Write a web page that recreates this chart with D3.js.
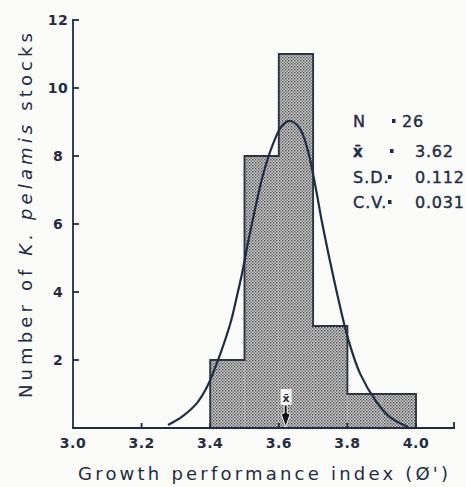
<!DOCTYPE html>
<html>
<head>
<meta charset="utf-8">
<script src="https://cdn.jsdelivr.net/npm/d3@7/dist/d3.min.js"></script>
<style>
  html, body { margin: 0; padding: 0; background: #fbfbf9; }
  svg { display: block; }
  text { font-family: "DejaVu Sans", sans-serif; fill: #1f2c44; }
</style>
</head>
<body>
<svg id="chart" width="466" height="487"></svg>
<script>
// ---------------- data ----------------
const binStarts = [3.4, 3.5, 3.6, 3.7, 3.8, 3.9];
const binWidth = 0.1;
const counts = [2, 8, 11, 3, 1, 1];

// fitted normal curve
const curveX = [3.277, 3.321, 3.362, 3.391, 3.420, 3.458, 3.478, 3.493, 3.510, 3.531, 3.554, 3.583, 3.609, 3.633,
                3.662, 3.685, 3.706, 3.726, 3.749, 3.770, 3.802, 3.837, 3.886, 3.924, 3.977];
const curveY = [0.09, 0.36, 0.74, 1.21, 1.92, 3.05, 3.88, 4.55, 5.45, 6.45, 7.45, 8.35, 8.88, 9.03,
                8.80, 8.15, 7.15, 6.05, 4.92, 3.95, 2.62, 1.60, 0.75, 0.32, 0.03];

const xTicks = [3.0, 3.2, 3.4, 3.6, 3.8, 4.0];
const xTickLabels = ["3.0", "3.2", "3.4", "3.6", "3.8", "4.0"];
const yTicks = [2, 4, 6, 8, 10, 12];
const yTickLabels = ["2", "4", "6", "8", "10", "12"];

const statNames = ["N", "x\u0304", "S.D.", "C.V."];
const statValues = ["26", "3.62", "0.112", "0.031"];
const meanValue = 3.62;

const xTitle = "Growth performance index (\u00D8')";

// ---------------- layout ----------------
const ink = "#1f2c44";
const svg = d3.select("#chart");
const x = d3.scaleLinear().domain([3.0, 4.0]).range([73, 416]);
const y = d3.scaleLinear().domain([0, 12]).range([428, 20]);

// stipple pattern
const defs = svg.append("defs");
const pat = defs.append("pattern").attr("id", "stip")
  .attr("width", 3).attr("height", 3).attr("patternUnits", "userSpaceOnUse");
pat.append("rect").attr("width", 3).attr("height", 3).attr("fill", "#d2d2d2");
pat.append("rect").attr("x", 0).attr("y", 0).attr("width", 1.4).attr("height", 1.4).attr("fill", "#474747");
pat.append("rect").attr("x", 1.5).attr("y", 1.5).attr("width", 1.4).attr("height", 1.4).attr("fill", "#5e5e5e");

// bars (fill)
svg.append("g").selectAll("rect").data(binStarts).join("rect")
  .attr("x", (d) => x(d))
  .attr("y", (d, i) => y(counts[i]))
  .attr("width", (d) => x(d + binWidth) - x(d))
  .attr("height", (d, i) => y(0) - y(counts[i]))
  .attr("fill", "url(#stip)");

// step outline of histogram
const steps = [];
binStarts.forEach((d, i) => {
  steps.push([x(d), y(counts[i])]);
  steps.push([x(d + binWidth), y(counts[i])]);
});
const outline = [[x(binStarts[0]), y(0)], ...steps, [x(binStarts[binStarts.length - 1] + binWidth), y(0)]];
svg.append("path")
  .attr("d", d3.line()(outline))
  .attr("fill", "none").attr("stroke", "#2e3540").attr("stroke-width", 1.9);

// axes
const axisG = svg.append("g").attr("stroke", ink).attr("stroke-width", 1.8).attr("fill", "none");
axisG.append("line").attr("x1", x(3.0)).attr("x2", x(3.0)).attr("y1", y(12) - 1).attr("y2", y(0));
axisG.append("line").attr("x1", x(3.0) - 1).attr("x2", 455).attr("y1", y(0)).attr("y2", y(0));
axisG.append("line").attr("x1", 454).attr("x2", 454).attr("y1", y(0)).attr("y2", y(0) - 6);
axisG.selectAll(".yt").data(yTicks).join("line")
  .attr("x1", x(3.0)).attr("x2", x(3.0) + 6)
  .attr("y1", (d) => y(d)).attr("y2", (d) => y(d));
axisG.selectAll(".xt").data(xTicks.slice(1)).join("line")
  .attr("x1", (d) => x(d)).attr("x2", (d) => x(d))
  .attr("y1", y(0)).attr("y2", y(0) - 5);

// tick labels
svg.append("g").selectAll("text").data(xTicks).join("text")
  .attr("x", (d) => x(d)).attr("y", 448)
  .attr("text-anchor", "middle")
  .attr("font-size", 14).attr("font-weight", "bold").attr("letter-spacing", 0.5)
  .text((d, i) => xTickLabels[i]);
svg.append("g").selectAll("text").data(yTicks).join("text")
  .attr("x", 58).attr("y", (d) => y(d)).attr("dy", "0.36em")
  .attr("text-anchor", "middle")
  .attr("font-size", 14).attr("font-weight", "bold").attr("letter-spacing", 0.5)
  .text((d, i) => yTickLabels[i]);

// normal curve
svg.append("path")
  .attr("d", d3.line().x((d) => x(d)).y((d, i) => y(curveY[i])).curve(d3.curveCatmullRom)(curveX))
  .attr("fill", "none").attr("stroke", ink).attr("stroke-width", 2.2);

// mean marker
const mx = x(meanValue);
svg.append("rect").attr("x", mx - 5).attr("y", 389).attr("width", 11).attr("height", 16).attr("fill", "#fbfbf9");
svg.append("text").attr("x", mx + 0.5).attr("y", 402).attr("text-anchor", "middle")
  .attr("font-size", 11).attr("font-weight", "bold").text("x\u0304");
svg.append("path")
  .attr("d", `M${mx - 1.5},405 L${mx + 1.5},405 L${mx + 1.5},413 L${mx + 4.5},414 L${mx},427 L${mx - 4.5},414 L${mx - 1.5},413 Z`)
  .attr("fill", "#111").attr("stroke", "#fbfbf9").attr("stroke-width", 1);

// stats legend
const rowY = [127, 157, 183, 208];
const dotX = [392, 390, 388, 388];
const valX = [402, 415, 415, 415];
const leg = svg.append("g");
leg.selectAll(".nm").data(statNames).join("text")
  .attr("x", 353).attr("y", (d, i) => rowY[i])
  .attr("font-size", (d, i) => i === 1 ? 15 : 16).attr("letter-spacing", 1)
  .attr("font-weight", (d, i) => i === 1 ? "bold" : "normal")
  .attr("stroke", ink).attr("stroke-width", 0.4)
  .text((d) => d);
leg.selectAll(".dt").data(statNames).join("rect")
  .attr("x", (d, i) => dotX[i]).attr("y", (d, i) => rowY[i] - 8)
  .attr("width", 3.5).attr("height", 4).attr("fill", ink);
leg.selectAll(".vl").data(statValues).join("text")
  .attr("x", (d, i) => valX[i]).attr("y", (d, i) => rowY[i])
  .attr("font-size", 16).attr("letter-spacing", 0.8)
  .attr("stroke", ink).attr("stroke-width", 0.4)
  .text((d) => d);

// axis titles
svg.append("text")
  .attr("x", 78).attr("y", 480)
  .attr("font-size", 18).attr("textLength", 370).attr("lengthAdjust", "spacing")
  .text(xTitle);

const yt = svg.append("text")
  .attr("transform", "translate(32,398) rotate(-90)")
  .attr("font-size", 18).attr("textLength", 365).attr("lengthAdjust", "spacing");
yt.append("tspan").text("Number of ");
yt.append("tspan").attr("font-style", "italic").text("K. pelamis");
yt.append("tspan").text(" stocks");
</script>
</body>
</html>
